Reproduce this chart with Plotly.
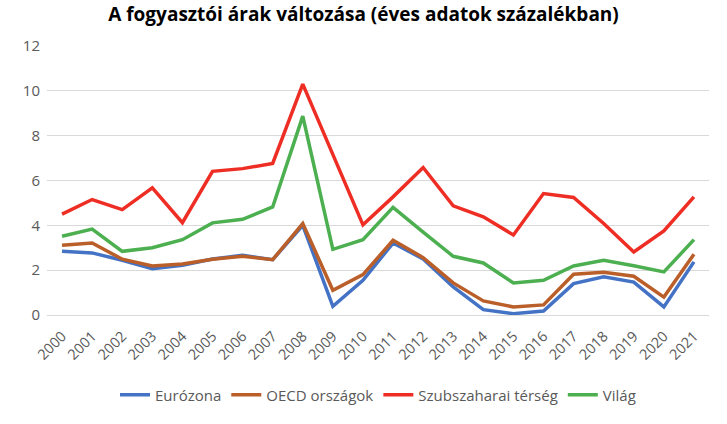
import plotly.graph_objects as go

years = [str(y) for y in range(2000, 2022)]
eurozona = [2.84, 2.77, 2.44, 2.07, 2.22, 2.50, 2.66, 2.47, 4.00, 0.39, 1.55,
            3.21, 2.50, 1.25, 0.24, 0.06, 0.18, 1.40, 1.70, 1.47, 0.36, 2.37]
oecd = [3.11, 3.21, 2.49, 2.19, 2.28, 2.49, 2.62, 2.47, 4.08, 1.10, 1.80,
        3.33, 2.56, 1.43, 0.63, 0.36, 0.45, 1.82, 1.91, 1.73, 0.80, 2.71]
szubszahara = [4.50, 5.15, 4.70, 5.67, 4.12, 6.41, 6.53, 6.76, 10.30, 7.17, 4.02,
               5.27, 6.58, 4.87, 4.38, 3.57, 5.42, 5.24, 4.08, 2.81, 3.75, 5.27]
vilag = [3.51, 3.83, 2.84, 3.00, 3.36, 4.11, 4.27, 4.82, 8.87, 2.93, 3.36,
         4.80, 3.70, 2.62, 2.32, 1.43, 1.55, 2.19, 2.44, 2.20, 1.92, 3.36]

series = [
    ("Eurózona", eurozona, "#4472C4"),
    ("OECD országok", oecd, "#BA5F2A"),
    ("Szubszaharai térség", szubszahara, "#EE2E24"),
    ("Világ", vilag, "#4CAF50"),
]

fig = go.Figure()
for name, vals, col in series:
    fig.add_trace(go.Scatter(x=years, y=vals, name=name, mode="lines",
                             line=dict(color=col, width=3.5)))

font_family = "Open Sans, Lato, sans-serif"
fig.update_layout(
    width=727, height=424,
    margin=dict(l=47, r=18, t=46, b=109),
    paper_bgcolor="white", plot_bgcolor="white",
    title=dict(text="<b>A fogyasztói árak változása (éves adatok százalékban)</b>",
               x=0.5, xanchor="center", y=0.966, yanchor="middle",
               font=dict(family=font_family, size=19, color="black")),
    font=dict(family=font_family, size=15, color="#595959"),
    showlegend=True,
    legend=dict(orientation="h", x=0.5, xanchor="center", y=-0.297, yanchor="middle",
                font=dict(size=15, color="#595959"), itemwidth=30),
    xaxis=dict(type="category", range=[-0.5, 21.5], tickangle=-45,
               showgrid=False, showline=False, ticks="", ticklabelstandoff=9,
               tickfont=dict(size=14.5, color="#595959")),
    yaxis=dict(range=[0, 12], dtick=2, showgrid=True, gridcolor="#D9D9D9",
               gridwidth=1, zeroline=True, zerolinecolor="#D9D9D9", zerolinewidth=1,
               showline=False, ticks="", ticklabelstandoff=6,
               tickfont=dict(size=15, color="#595959")),
)

fig.write_html("out.html")
